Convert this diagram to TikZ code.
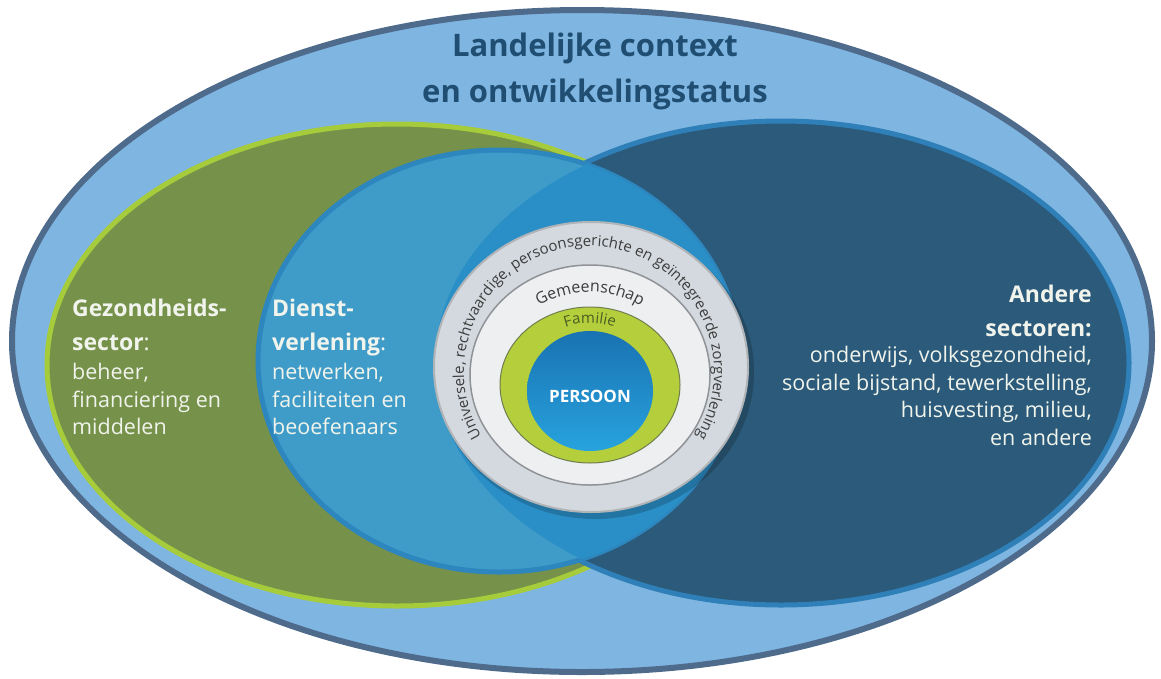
\documentclass[tikz,border=0pt]{standalone}
\usepackage{fontspec}
\setmainfont{Open Sans}
\usetikzlibrary{decorations.text}

\definecolor{skyfill}{HTML}{7FB5E1}
\definecolor{skyline}{HTML}{4E6B8C}
\definecolor{olivefill}{HTML}{76914A}
\definecolor{limeline}{HTML}{A6CC3C}
\definecolor{navyfill}{HTML}{2B5A7A}
\definecolor{navyline}{HTML}{2F7FB8}
\definecolor{servfill}{HTML}{3F9CC8}
\definecolor{servline}{HTML}{2D86BD}
\definecolor{mixfill}{HTML}{2A8FC7}
\definecolor{ringgray}{HTML}{D4D9DF}
\definecolor{ringlight}{HTML}{EEEFF0}
\definecolor{ringedge}{HTML}{8F9398}
\definecolor{famgreen}{HTML}{B4CF3B}
\definecolor{famtext}{HTML}{4B5D23}
\definecolor{ringtext}{HTML}{3C3C3C}
\definecolor{titleblue}{HTML}{1F4E72}
\definecolor{textwhite}{HTML}{F0F4EC}
\definecolor{persontop}{HTML}{1A72B2}
\definecolor{personbot}{HTML}{27A3DE}

\newcommand\ringfont{\fontsize{15}{15}\selectfont}
\newcommand\gemfont{\fontsize{16}{16}\selectfont}
\newcommand\famfont{\fontsize{15}{15}\selectfont}

\begin{document}
\begin{tikzpicture}[x=1pt,y=-1pt,
	headtxt/.style={anchor=north west, align=left, inner sep=0pt, text=textwhite,
		font=\fontsize{23}{34}\selectfont\bfseries},
	bodytxt/.style={anchor=north west, align=left, inner sep=0pt, text=textwhite,
		font=\fontsize{21.5}{27.5}\selectfont}]
	\useasboundingbox (0,0) rectangle (1161,678);
	% context
	\draw[skyline, fill=skyfill, line width=6pt] (582,341) ellipse[x radius=570pt, y radius=331pt];
	% sectors
	\draw[limeline, fill=olivefill, line width=5pt] (397,365) ellipse[x radius=350pt, y radius=241pt];
	\draw[navyline, fill=navyfill, line width=5pt] (781,363) ellipse[x radius=348pt, y radius=242pt];
	\draw[servline, fill=servfill, line width=5pt] (499,361) ellipse[x radius=241pt, y radius=211pt];
	\begin{scope}
		\clip (781,363) ellipse[x radius=346pt, y radius=240pt];
		\fill[mixfill] (499,361) ellipse[x radius=241pt, y radius=211pt];
	\end{scope}
	% rings
	\fill[black, opacity=.18] (595,372) ellipse[x radius=159pt, y radius=147pt];
	\draw[ringedge!70, fill=ringgray, line width=2pt] (591,367) ellipse[x radius=157pt, y radius=145pt];
	\draw[ringedge, fill=ringlight, line width=1.5pt] (590,375) ellipse[x radius=120pt, y radius=110pt];
	\draw[famtext!80, fill=famgreen, line width=1pt] (590,385) ellipse[x radius=90pt, y radius=78pt];
	\shade[top color=persontop, bottom color=personbot] (590,391) ellipse[x radius=63pt, y radius=60pt];
	
	\path[decorate, decoration={text along path, text align=center, text color=ringtext,
		text={|\ringfont|Universele{,} rechtvaardige{,} persoonsgerichte en geïntegreerde zorgverlening}}]
		(546.2,490.4) arc[start angle=250, end angle=-70, x radius=125pt, y radius=126pt];
	\path[decorate, decoration={text along path, text align=center, text color=ringtext,
		text={|\gemfont|Gemeenschap}}]
		(522.1,318.7) arc[start angle=135, end angle=45, x radius=96pt, y radius=91pt];
	\path[decorate, decoration={text along path, text align=center, text color=famtext,
		text={|\famfont|Familie}}]
		(534.8,348.0) arc[start angle=140, end angle=40, x radius=72pt, y radius=70pt];
	
	\node (title) at (595,33) [anchor=north, align=center, inner sep=0pt, text=titleblue,
		font=\fontsize{31}{46}\selectfont\bfseries] {Landelijke context\\en ontwikkelingstatus};
	\node (gezond) at (72,299) [headtxt] {Gezondheids-\\sector{\mdseries:}};
	\node (gezondtxt) at (72,363) [bodytxt] {beheer,\\financiering en\\middelen};
	\node (dienst) at (272,299) [headtxt] {Dienst-\\verlening{\mdseries:}};
	\node (diensttxt) at (272,363) [bodytxt] {netwerken,\\faciliteiten en\\beoefenaars};
	\node (andere) at (1092,285) [headtxt, anchor=north east, align=right] {Andere\\sectoren:};
	\node (anderetxt) at (1092,346) [bodytxt, anchor=north east, align=right]
		{onderwijs, volksgezondheid,\\sociale bijstand, tewerkstelling,\\huisvesting, milieu,\\en andere};
	\node (persoon) at (590,396) [text=white, font=\fontsize{17}{17}\selectfont\bfseries] {PERSOON};
\end{tikzpicture}
\end{document}
